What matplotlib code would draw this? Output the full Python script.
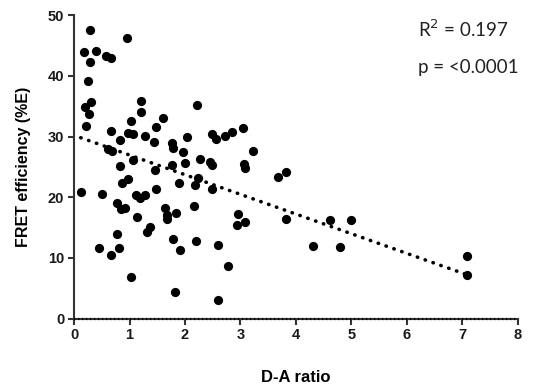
import numpy as np
import matplotlib
matplotlib.use("Agg")
import matplotlib.pyplot as plt

# D-A ratio vs FRET efficiency
da_ratio = [0.28, 0.95, 0.18, 0.39, 0.28, 0.57, 0.66, 0.25, 0.30, 0.19,
            0.27, 0.21, 1.20, 1.20, 2.22, 1.02, 1.61, 1.47, 0.67, 0.97,
            1.07, 1.28, 0.82, 1.44, 1.76, 1.78, 2.04, 2.48, 2.56, 2.72,
            2.84, 3.05, 0.61, 0.69, 1.96, 3.23, 0.82, 1.07, 1.46, 1.76,
            2.00, 2.28, 2.45, 2.48, 3.07, 3.08, 3.68, 3.83, 0.97, 0.87,
            0.12, 0.51, 1.11, 1.19, 1.28, 1.47, 1.90, 2.18, 2.24, 2.48,
            0.78, 0.85, 0.92, 1.13, 1.64, 1.67, 1.68, 1.84, 2.16, 2.96,
            3.08, 2.94, 1.37, 1.32, 0.77, 0.45, 0.66, 0.81, 1.78, 1.91,
            2.20, 2.60, 1.02, 1.82, 2.77, 2.60, 3.83, 4.31, 4.62, 4.80,
            4.99, 7.08, 7.08]
fret_eff = [47.6, 46.3, 44.0, 44.1, 42.3, 43.2, 42.9, 39.2, 35.7, 34.9,
            33.7, 31.7, 35.9, 34.1, 35.2, 32.6, 33.1, 31.5, 30.9, 30.6,
            30.4, 30.1, 29.4, 29.1, 28.9, 28.2, 29.9, 30.5, 29.6, 30.1,
            30.7, 31.4, 27.9, 27.6, 27.5, 27.6, 25.1, 26.2, 24.5, 25.3,
            25.6, 26.3, 25.8, 25.3, 25.5, 24.9, 23.4, 24.2, 23.0, 22.4,
            20.8, 20.6, 20.3, 19.8, 20.3, 21.3, 22.4, 22.0, 23.2, 21.3,
            19.1, 18.0, 18.3, 16.7, 18.3, 17.1, 16.5, 17.4, 18.6, 17.3,
            15.9, 15.5, 15.1, 14.3, 14.0, 11.7, 10.5, 11.6, 13.1, 11.3,
            12.8, 12.1, 6.9, 4.4, 8.6, 3.0, 16.5, 11.9, 16.3, 11.8,
            16.3, 10.3, 7.2]

# linear fit shown in the figure
fit_intercept = 30.2
fit_slope = -3.24

x_ticks = [0, 1, 2, 3, 4, 5, 6, 7, 8]
y_ticks = [0, 10, 20, 30, 40, 50]

plt.rcParams['font.family'] = ['Liberation Sans', 'DejaVu Sans']

fig = plt.figure(figsize=(5.33, 3.9), dpi=100)
ax = fig.add_axes([0.139, 0.183, 0.832, 0.778])

ax.scatter(da_ratio, fret_eff, s=44, color='black', zorder=3, clip_on=False,
           linewidths=0)

fx = np.array([min(da_ratio), max(da_ratio)])
ax.plot(fx, fit_intercept + fit_slope * fx, color='black', lw=2.6,
        linestyle=(0, (0.1, 2.2)), dash_capstyle='round', zorder=2)
# dotted line along zero
ax.plot([0, 8], [0, 0], color='black', lw=1.6, linestyle=(0, (0.6, 1.2)),
        zorder=4, clip_on=False)

ax.set_xlim(0, 8)
ax.set_ylim(0, 50)
ax.set_xticks(x_ticks)
ax.set_yticks(y_ticks)
for s in ['top', 'right']:
    ax.spines[s].set_visible(False)
for s in ['left', 'bottom']:
    ax.spines[s].set_linewidth(1.5)
    ax.spines[s].set_color('#333333')
ax.tick_params(direction='out', length=4, width=1.5, color='#333333',
               labelsize=10.5, pad=3)
for lab in ax.get_xticklabels() + ax.get_yticklabels():
    lab.set_fontweight('bold')
    lab.set_color('#1a1a1a')

ax.set_xlabel('D-A ratio', fontsize=12, fontweight='bold', labelpad=20)
ax.set_ylabel('FRET efficiency (%E)', fontsize=11.5, fontweight='bold',
              labelpad=12)

ax.text(0.784, 0.925, 'R$^{2}$ = 0.197', transform=fig.transFigure,
        fontsize=13.5, family='Lato', va='center', ha='left', color='#222222')
ax.text(0.784, 0.828, 'p = <0.0001', transform=fig.transFigure,
        fontsize=13.5, family='Lato', va='center', ha='left', color='#222222')

fig.savefig('out.png', dpi=100)
